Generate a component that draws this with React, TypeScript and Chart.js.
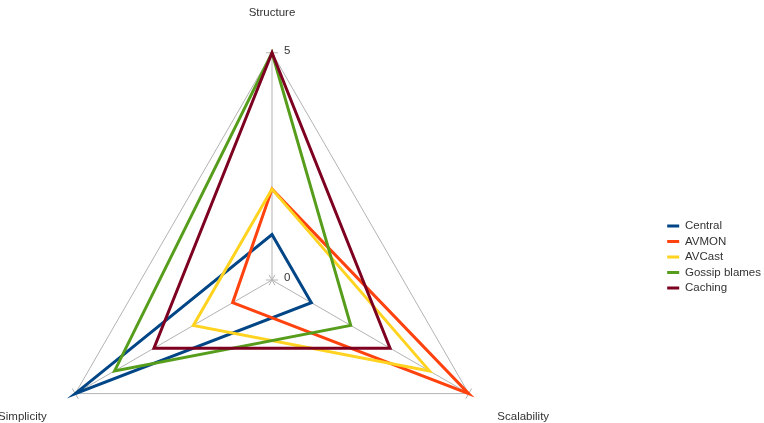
import React, { useEffect, useRef } from "react";
import { Chart, registerables } from "chart.js";

Chart.register(...registerables);

// Axes of the radar, clockwise from the top
const AXES = ["Structure", "Scalability", "Simplicity"];
const TICK_VALUES = [0, 5];

const SERIES_NAMES = ["Central", "AVMON", "AVCast", "Gossip blames", "Caching"];
const CENTRAL = [1, 1, 5];
const AVMON = [2, 5, 1];
const AVCAST = [2, 4, 2];
const GOSSIP_BLAMES = [5, 2, 4];
const CACHING = [5, 3, 3];
const SERIES_VALUES = [CENTRAL, AVMON, AVCAST, GOSSIP_BLAMES, CACHING];
const SERIES_COLORS = ["#004586", "#ff420e", "#ffd320", "#579d1c", "#7e0021"];

const GRID = "#b3b3b3";
const TEXT = "#333333";
const FONT_FAMILY = '"Liberation Sans", Arial, sans-serif';

// Short tick marks across each spoke plus the 0 / 5 value labels
const axisMarks = {
  id: "axisMarks",
  beforeDatasetsDraw(chart: any) {
    const r = chart.scales.r;
    const ctx = chart.ctx as CanvasRenderingContext2D;
    ctx.save();
    ctx.strokeStyle = GRID;
    ctx.lineWidth = 1;
    for (let i = 0; i < AXES.length; i++) {
      const outer = r.getPointPosition(i, r.drawingArea);
      const ux = (outer.x - r.xCenter) / r.drawingArea;
      const uy = (outer.y - r.yCenter) / r.drawingArea;
      for (const v of TICK_VALUES) {
        const p = r.getPointPosition(i, r.getDistanceFromCenterForValue(v));
        ctx.beginPath();
        ctx.moveTo(p.x - uy * 6, p.y + ux * 6);
        ctx.lineTo(p.x + uy * 6, p.y - ux * 6);
        ctx.stroke();
      }
    }
    ctx.fillStyle = TEXT;
    ctx.font = `11.5px ${FONT_FAMILY}`;
    ctx.textAlign = "left";
    ctx.textBaseline = "middle";
    for (const v of TICK_VALUES) {
      const p = r.getPointPosition(0, r.getDistanceFromCenterForValue(v));
      ctx.fillText(String(v), p.x + 12, p.y - 2);
    }
    ctx.restore();
  },
};

export default function App() {
  const canvasRef = useRef<HTMLCanvasElement | null>(null);

  useEffect(() => {
    const canvas = canvasRef.current;
    if (!canvas) return;
    Chart.defaults.font.family = FONT_FAMILY;
    Chart.defaults.font.size = 11.5;
    Chart.defaults.color = TEXT;

    const n = SERIES_NAMES.length;
    const chart = new Chart(canvas, {
      type: "radar",
      data: {
        labels: AXES,
        datasets: SERIES_NAMES.map((name, i) => ({
          label: name,
          data: SERIES_VALUES[i],
          borderColor: SERIES_COLORS[i],
          backgroundColor: SERIES_COLORS[i],
          borderWidth: 3,
          fill: false,
          pointRadius: 0,
          pointHoverRadius: 0,
          tension: 0,
          borderJoinStyle: "miter" as const,
          order: n - i,
        })),
      },
      options: {
        responsive: false,
        animation: false,
        devicePixelRatio: 1,
        layout: { padding: 0 },
        plugins: {
          tooltip: { enabled: false },
          legend: {
            position: "right",
            labels: {
              boxWidth: 12,
              boxHeight: 3,
              padding: 4,
              color: TEXT,
              font: { size: 11.5, family: FONT_FAMILY },
              sort: (a: any, b: any) => a.datasetIndex - b.datasetIndex,
              generateLabels: (c: any) =>
                Chart.defaults.plugins.legend.labels
                  .generateLabels(c)
                  .map((item: any) => ({
                    ...item,
                    fillStyle: item.strokeStyle,
                    lineWidth: 0,
                  })),
            },
          },
        },
        scales: {
          r: {
            min: 0,
            max: 5,
            beginAtZero: true,
            ticks: { stepSize: 5, display: false },
            grid: { color: GRID, lineWidth: 1 },
            angleLines: { color: GRID, lineWidth: 1 },
            pointLabels: {
              color: TEXT,
              padding: 33,
              font: { size: 11.5, family: FONT_FAMILY },
            },
          },
        },
      },
      plugins: [axisMarks],
    });
    return () => chart.destroy();
  }, []);

  return (
    <div
      style={{
        position: "fixed",
        left: 0,
        top: 0,
        width: 764,
        height: 423,
        overflow: "hidden",
        background: "#ffffff",
      }}
    >
      <canvas
        ref={canvasRef}
        width={890}
        height={548}
        style={{ position: "absolute", left: -119, top: -17, width: 890, height: 548 }}
      />
    </div>
  );
}
